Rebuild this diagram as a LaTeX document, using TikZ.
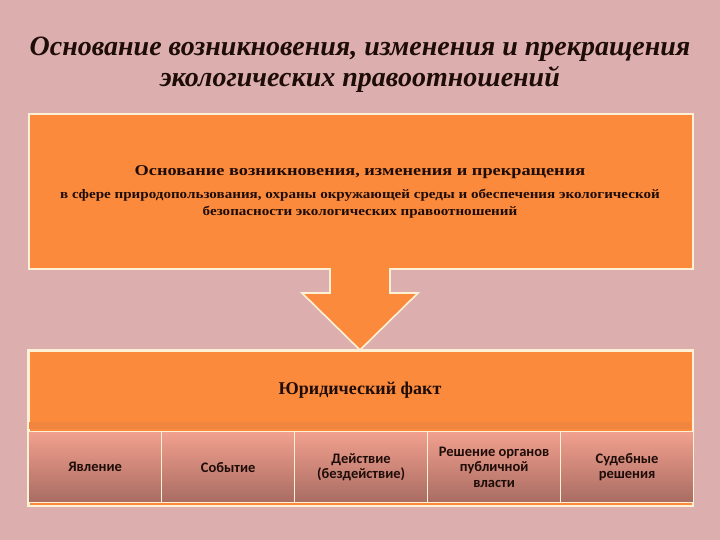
\documentclass[tikz,border=0pt]{standalone}
\usepackage{fontspec}
\setmainfont{Liberation Serif}
\newfontfamily\cellfont{Carlito}
\newfontfamily\wideA[FakeStretch=1.22]{Liberation Serif}
\newfontfamily\wideB[FakeStretch=1.16]{Liberation Serif}
\usetikzlibrary{positioning}
\definecolor{bgpink}{HTML}{DCAFAE}
\definecolor{orng}{HTML}{FC8A3C}
\definecolor{orngdark}{HTML}{F08540}
\definecolor{creamline}{HTML}{FFF1D6}
\definecolor{celltop}{HTML}{F2A08E}
\definecolor{cellbot}{HTML}{A86C62}
\definecolor{txt}{HTML}{1E0C08}
\tikzset{
  mainbox/.style={rectangle, fill=orng, draw=creamline, line width=1.6pt, inner sep=0pt, anchor=north west},
  cellbox/.style={rectangle, top color=celltop, bottom color=cellbot, draw=creamline, line width=1.2pt,
     minimum width=133pt, minimum height=71pt, inner sep=0pt, anchor=north west, align=center,
     font=\cellfont\bfseries\fontsize{14.5}{15.5}\selectfont, text=txt},
}
\begin{document}
\begin{tikzpicture}[x=1pt,y=-1pt]
\fill[bgpink] (0,0) rectangle (720,540);
\useasboundingbox (0,0) rectangle (720,540);
% title
\node[align=center, font=\fontsize{28}{31}\selectfont\bfseries\itshape, text=txt] (title) at (360,65)
  {Основание возникновения, изменения и прекращения\\экологических правоотношений};
% top box
\node[mainbox, minimum width=664pt, minimum height=155pt] (topbox) at (28,113) {};
\node[font=\wideA\fontsize{15}{18}\selectfont\bfseries, text=txt] (t1) at (360,172) {Основание возникновения, изменения и прекращения};
\node[align=center, font=\wideB\fontsize{13}{17}\selectfont\bfseries, text=txt] (t2) at (360,204)
  {в сфере природопользования, охраны окружающей среды и обеспечения экологической\\безопасности экологических правоотношений};
% bottom box
\node[mainbox, minimum width=664pt, minimum height=155pt] (botbox) at (28,350) {};
\fill[orngdark] (29,422) rectangle (691,429);
\node[font=\fontsize{18}{20}\selectfont\bfseries, text=txt] (fact) at (360,390) {Юридический факт};
% cells
\node[cellbox] (c1) at (28,431) {Явление};
\node[cellbox] (c2) at (161,431) {Событие};
\node[cellbox] (c3) at (294,431) {Действие\\(бездействие)};
\node[cellbox] (c4) at (427,431) {Решение органов\\публичной\\власти};
\node[cellbox] (c5) at (560,431) {Судебные\\решения};
\draw[creamline, line width=1.6pt] (botbox.north west) rectangle (botbox.south east);
% arrow
\coordinate (atip) at (360,350);
\fill[orng] (330,262) -- (390,262) -- (390,293) -- (418,293) -- (atip) -- (302,293) -- (330,293) -- cycle;
\draw[creamline, line width=1.6pt, line join=miter] (330,268) -- (330,293) -- (302,293) -- (atip) -- (418,293) -- (390,293) -- (390,268);
\end{tikzpicture}
\end{document}
